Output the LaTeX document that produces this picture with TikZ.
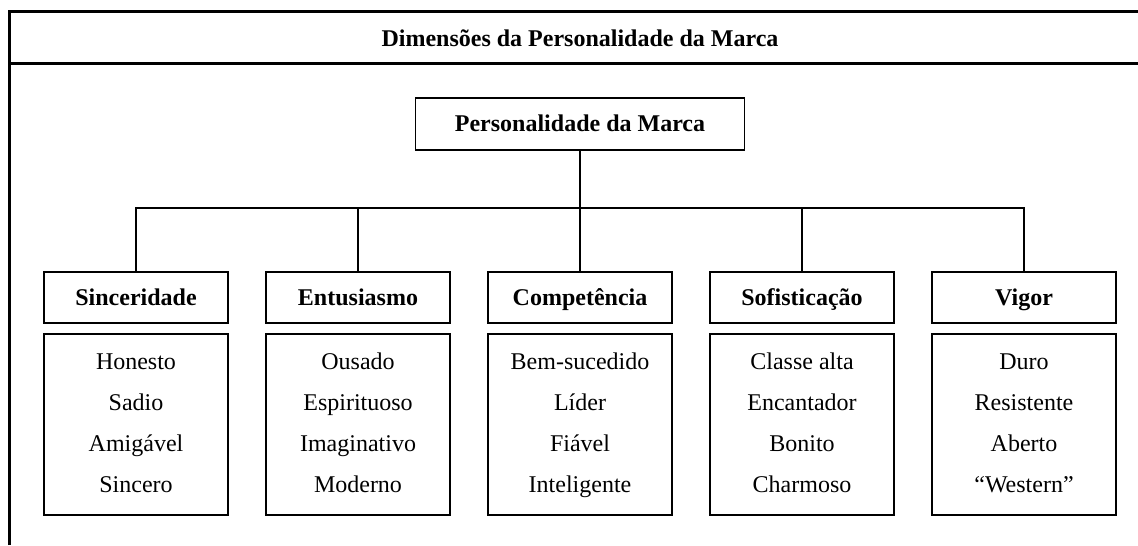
\documentclass[tikz,border=0pt]{standalone}
\usepackage{fontspec}
\setmainfont{Liberation Serif}
\usetikzlibrary{arrows}

\begin{document}
\begin{tikzpicture}[node distance=111pt, x=0.5pt, y=-0.5pt]

\tikzstyle{cab} = [rectangle, minimum height=25.5pt, minimum width=92pt, inner sep=0pt, text height=9.5pt, text depth=1.6pt, text centered, draw=black, line width=0.9pt, font=\fontsize{12}{14}\selectfont\bfseries]
\tikzstyle{itens} = [rectangle, minimum height=90.5pt, minimum width=92pt, inner sep=0pt, text height=70.5pt, text depth=2.1pt, align=center, draw=black, line width=0.9pt, font=\fontsize{12}{20.5}\selectfont]
\tikzstyle{liga} = [line width=1.3pt]
\useasboundingbox (0,0) rectangle (1138,545);

% moldura e titulo
\draw[line width=1.5pt] (9,545) -- (9,12) -- (1138,12);
\draw[line width=1.5pt] (9,64) -- (1138,64);
\node (titulo) at (580,38) {\fontsize{12}{14}\selectfont\bfseries Dimensões da Personalidade da Marca};

\node (marca) [cab, minimum width=164.5pt, minimum height=26pt] at (580,124) {Personalidade da Marca};

\node (sinc) [cab] at (136,297.5) {Sinceridade};
\node (entu) [cab, right of=sinc] {Entusiasmo};
\node (comp) [cab, right of=entu] {Competência};
\node (sofi) [cab, right of=comp] {Sofisticação};
\node (vigor) [cab, right of=sofi] {Vigor};

\node (sincl) [itens, below of=sinc, node distance=63.5pt] {Honesto\\Sadio\\Amigável\\Sincero};
\node (entul) [itens, below of=entu, node distance=63.5pt] {Ousado\\Espirituoso\\Imaginativo\\Moderno};
\node (compl) [itens, below of=comp, node distance=63.5pt] {Bem-sucedido\\Líder\\Fiável\\Inteligente};
\node (sofil) [itens, below of=sofi, node distance=63.5pt] {Classe alta\\Encantador\\Bonito\\Charmoso};
\node (vigorl) [itens, below of=vigor, node distance=63.5pt] {Duro\\Resistente\\Aberto\\“Western”};

\coordinate (barra) at (580,208);
\draw[liga] (marca) -- (comp);
\draw[liga] (sinc.north) |- (barra) -| (vigor.north);
\draw[liga] (entu.north) -- (entu.north |- barra);
\draw[liga] (sofi.north) -- (sofi.north |- barra);
\end{tikzpicture}
\end{document}
